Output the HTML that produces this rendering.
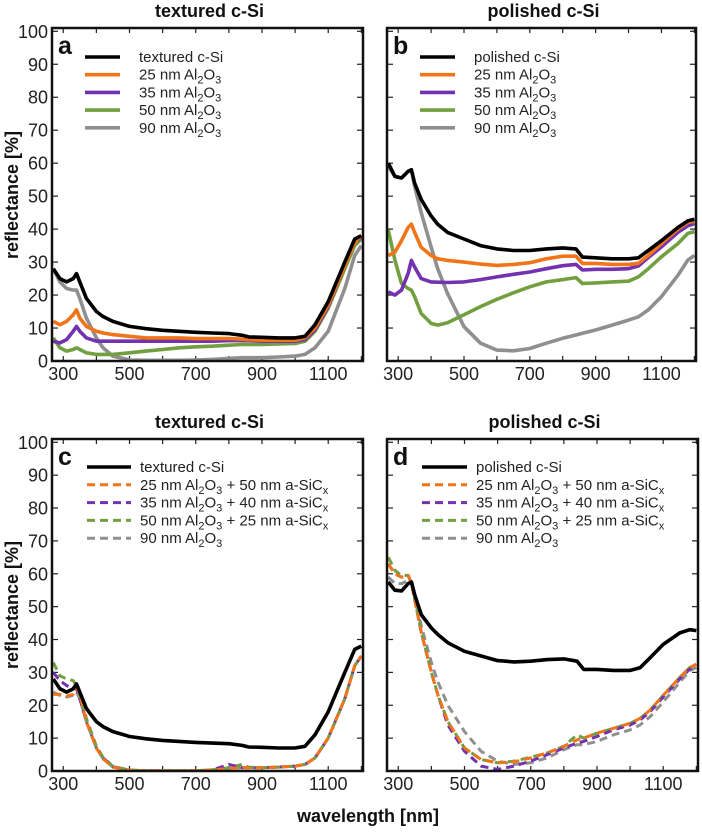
<!DOCTYPE html>
<html><head><meta charset="utf-8"><style>
html,body{margin:0;padding:0;background:#fff;}
svg{display:block;font-family:"Liberation Sans",Arial,sans-serif;}
</style></head><body>
<svg id="fig" width="702" height="832" viewBox="0 0 702 832"></svg>
<script>
const wavelengths=[270,290,310,330,340,350,370,400,420,450,500,550,600,650,700,750,800,840,860,900,950,1000,1030,1060,1100,1150,1180,1200];
const xTicks=[300,500,700,900,1100];
const yTicks=[0,10,20,30,40,50,60,70,80,90,100];
// panel a - textured
const aBare=[28,25,24,25,26.5,24,19,15,13.5,12,10.5,9.8,9.3,9,8.7,8.5,8.3,7.8,7.3,7.2,7,7,7.5,11,18,30,37,38];
const a25=[12,11,12,14,15.5,13,10.5,9,8.5,8,7.5,7,7,7,6.8,6.8,6.8,6.6,6.5,6.3,6.3,6.3,7,10,17,29,36,38];
const a35=[6,5.5,6.5,9,10.5,9,7,6,6,6,6,6,6,6,6,6,6.2,6.2,6.2,6,6,6,6.5,9.5,16.5,29,36,37.5];
const a50=[7,4,3,3.5,4,3.5,2.5,2,2,2,2.5,3,3.5,4,4.3,4.5,4.8,5,5,5,5.2,5.3,6,9,16,28,35,37];
const a90=[28,24,22,21.5,21.5,19,13,7,4,1.5,0.3,0.2,0.2,0.2,0.3,0.5,0.8,1,1,1,1.2,1.5,2,4,9,22,32,35];
// panel b - polished
const bBare=[60,56,55.5,57.5,58,54,49,44,41.5,39,37,35,34,33.5,33.5,34,34.3,34,31.5,31.3,31,31,31.3,33.5,36.5,40.5,42.5,43];
const b25=[32,33,36.5,40.5,41.5,39,34.5,32,31,30.5,30,29.4,29,29.3,29.8,31,31.8,31.8,29.6,29.6,29.3,29.3,29.6,32,35.6,40,42,42.4];
const b35=[21,20,21.5,26.5,30.5,28.5,25,24,23.9,23.8,24,24.7,25.5,26.3,27,28,28.9,29.3,27.6,27.8,27.8,28,28.8,31.4,34.6,39,41,41.7];
const b50=[39.7,30.6,23.5,22,21.5,19.5,14.4,11.4,10.9,11.6,14,16.5,18.7,20.7,22.5,24,24.7,25.3,23.5,23.7,24,24.2,25.5,28,31.6,35.6,38.7,39.2];
const b90=[59,56,55.5,57.5,58,53,45,34.6,28,20.5,10.4,5.4,3.3,3.1,3.8,5.4,6.9,7.9,8.4,9.4,10.9,12.4,13.4,15.5,19.5,26,30.6,32];
// panel c - textured stacks
const cBare=[28,25,24,25,26.5,24,19,15,13.5,12,10.5,9.8,9.3,9,8.7,8.5,8.3,7.8,7.3,7.2,7,7,7.5,11,18,30,37,38];
const c25=[23.3,23.3,22.8,23.3,25.3,23.3,15,7,3.7,1.2,0.2,0.1,0.1,0.1,0.1,0.3,0.8,1,1,1,1.2,1.5,2,4,10,22,32,35];
const c35=[30,27.5,26,25,25,22,15,7,4,1.3,0.2,0.1,0.1,0.1,0.1,0.3,2,1,1,1,1.2,1.5,2,4,10,22,32,35];
const c50=[33,29,28,27.5,26,23,16,7.5,4.2,1.4,0.3,0.1,0.1,0.1,0.1,0.4,1,2,1.2,1,1.2,1.5,2,4,10,22,32,35];
const c90=[24,23,22.5,23,24,22,15,7,3.8,1.2,0.2,0.1,0.1,0.1,0.1,0.3,0.8,1,1,1,1.2,1.5,2,4,10,22,32,35];
// panel d - polished stacks
const dBare=[57.5,55,54.8,57,57.5,53.5,47.5,43.5,41.5,39,36.4,35,33.6,33.2,33.4,33.9,34.1,33.4,30.9,30.9,30.6,30.6,31.4,34.4,38.5,42,43,42.7];
const d25=[63,60,59,59.5,57,52,42,30,23,15,7,3.5,2.5,2.8,4,5.5,7.5,9.5,10,11.5,13,14.5,16,18.5,23,28.5,31.5,32.5];
const d35=[63,60,59,59.5,57,52,42,30,23,14,6,1.5,0.5,1.5,3,5,7,8.5,9,10.5,12.5,14,15.5,18,22.5,28,31,32];
const d50=[65,61,59.5,59.5,57,52,42,30,23,15,7,3.5,2.5,3,4.2,5.5,7.5,11,10,11.5,13,14.5,16,18.5,23,28.5,31.5,32.5];
const d90=[59,57,57,58,57,53,44,33,27,20,12,6,3,2,2.5,4,6.5,8,8,9,11,12.5,14,16.5,21,27,30.5,31.5];

const NS="http://www.w3.org/2000/svg";
const svg=document.getElementById('fig');
const COL={black:"#000",orange:"#f07518",purple:"#7332b0",green:"#72a040",gray:"#8f8f8f"};
function mk(tag,attrs,parent){const e=document.createElementNS(NS,tag);for(const k in attrs)e.setAttribute(k,attrs[k]);(parent||svg).appendChild(e);return e;}

const panels=[
 {id:'a',x0:52,x1:363,y0:28,y1:361,title:'textured c-Si',
  series:[[aBare,'black',false,'textured c-Si'],[a25,'orange',false,'25 nm Al2O3'],[a35,'purple',false,'35 nm Al2O3'],[a50,'green',false,'50 nm Al2O3'],[a90,'gray',false,'90 nm Al2O3']],
  leg:{lx0:85,lx1:120,tx:139,ty:62,dy:17.7},showY:true},
 {id:'b',x0:387,x1:696,y0:28,y1:361,title:'polished c-Si',
  series:[[bBare,'black',false,'polished c-Si'],[b25,'orange',false,'25 nm Al2O3'],[b35,'purple',false,'35 nm Al2O3'],[b50,'green',false,'50 nm Al2O3'],[b90,'gray',false,'90 nm Al2O3']],
  leg:{lx0:420,lx1:455,tx:474,ty:62,dy:17.7},showY:false},
 {id:'c',x0:52,x1:363,y0:439,y1:771,title:'textured c-Si',
  series:[[cBare,'black',false,'textured c-Si'],[c25,'orange',true,'25 nm Al2O3 + 50 nm a-SiCx'],[c35,'purple',true,'35 nm Al2O3 + 40 nm a-SiCx'],[c50,'green',true,'50 nm Al2O3 + 25 nm a-SiCx'],[c90,'gray',true,'90 nm Al2O3']],
  leg:{lx0:87,lx1:131,tx:140,ty:472,dy:17.8},showY:true},
 {id:'d',x0:387,x1:698,y0:439,y1:771,title:'polished c-Si',
  series:[[dBare,'black',false,'polished c-Si'],[d25,'orange',true,'25 nm Al2O3 + 50 nm a-SiCx'],[d35,'purple',true,'35 nm Al2O3 + 40 nm a-SiCx'],[d50,'green',true,'50 nm Al2O3 + 25 nm a-SiCx'],[d90,'gray',true,'90 nm Al2O3']],
  leg:{lx0:422,lx1:467,tx:476,ty:472,dy:17.8},showY:false}
];

function labelText(t,x,y,parent){
  const el=mk('text',{x:x,y:y,'font-size':15,fill:'#222'},parent);
  const parts=t.split(/(Al2O3|SiCx)/);
  parts.forEach(p=>{
    if(p==='Al2O3'){
      const s1=mk('tspan',{},el);s1.textContent='Al';
      const s2=mk('tspan',{dy:4,'font-size':11},el);s2.textContent='2';
      const s3=mk('tspan',{dy:-4},el);s3.textContent='O';
      const s4=mk('tspan',{dy:4,'font-size':11},el);s4.textContent='3';
      const s5=mk('tspan',{dy:-4},el);s5.textContent='\u200B';
    }else if(p==='SiCx'){
      const s1=mk('tspan',{},el);s1.textContent='SiC';
      const s2=mk('tspan',{dy:4,'font-size':11},el);s2.textContent='x';
      const s3=mk('tspan',{dy:-4},el);s3.textContent='\u200B';
    }else if(p){const s=mk('tspan',{},el);s.textContent=p;}
  });
  return el;
}

panels.forEach(p=>{
  const g=mk('g',{});
  
  
  const xmin=266,xmax=1205,ymin=0,ymax=101;
  const sx=v=>p.x0+(v-xmin)/(xmax-xmin)*(p.x1-p.x0);
  const sy=v=>p.y1-(v-ymin)/(ymax-ymin)*(p.y1-p.y0);
  const t=mk('text',{x:(p.x0+p.x1)/2+2,y:p.y0-11,'font-size':18,'font-weight':'bold','text-anchor':'middle',fill:'#111'},g);
  t.textContent=p.title;
  
  
  const clipId='clip'+p.id;
  const cp=mk('clipPath',{id:clipId},g);
  mk('rect',{x:p.x0,y:p.y0,width:p.x1-p.x0,height:p.y1-p.y0},cp);
  const tg=mk('g',{stroke:'#222','stroke-width':1.2},g);
  
  
  yTicks.forEach(v=>{
    const y=sy(v);
    mk('line',{x1:p.x0,x2:p.x0+6,y1:y,y2:y},tg);
    mk('line',{x1:p.x1-6,x2:p.x1,y1:y,y2:y},tg);
    if(p.showY){
      const l=mk('text',{x:p.x0-4,y:y+6.5,'font-size':18,'text-anchor':'end',fill:'#222',stroke:'none'},g);
      l.textContent=v;
      
      
    }
  });
  for(let w=300;w<=1200;w+=100){
    const x=sx(w);
    mk('line',{x1:x,x2:x,y1:p.y1,y2:p.y1-5},tg);
    mk('line',{x1:x,x2:x,y1:p.y0,y2:p.y0+5},tg);
  }
  xTicks.forEach(w=>{
    const l=mk('text',{x:sx(w),y:p.y1+19,'font-size':18,'text-anchor':'middle',fill:'#222'},g);
    l.textContent=w;
    
    
  });
  const sg=mk('g',{'clip-path':'url(#'+clipId+')'},g);
  const order=[4,3,2,1,0];
  order.forEach(i=>{
    const s=p.series[i];
    const d=wavelengths.map((w,k)=>(k?'L':'M')+sx(w).toFixed(1)+','+sy(s[0][k]).toFixed(1)).join(' ');
    const path=mk('path',{d:d,fill:'none',stroke:COL[s[1]],'stroke-width':s[2]?3:3.6,'stroke-linejoin':'round','stroke-dasharray':s[2]?'8,5':'none'},sg);
    
    
  });
  const fr=mk('rect',{x:p.x0,y:p.y0,width:p.x1-p.x0,height:p.y1-p.y0,fill:'none',stroke:'#111','stroke-width':2.5},g);
  
  
  const pl=mk('text',{x:p.x0+6,y:p.y0+26,'font-size':25,'font-weight':'bold',fill:'#111'},g);
  pl.textContent=p.id;
  
  
  const lg=mk('g',{},g);
  
  
  p.series.forEach((s,i)=>{
    const y=p.leg.ty+i*p.leg.dy;
    const ln=mk('line',{x1:p.leg.lx0,x2:p.leg.lx1,y1:y-5,y2:y-5,stroke:COL[s[1]],'stroke-width':s[2]?3:3.6,'stroke-dasharray':s[2]?'8,5':'none'},lg);
    
    
    const tx=labelText(s[3],p.leg.tx,y,lg);
    
    
  });
});
[195,605].forEach(cy=>{
  const yl=mk('text',{x:0,y:0,'font-size':18,'font-weight':'bold','text-anchor':'middle',fill:'#111',transform:'translate(18,'+cy+') rotate(-90)'});
  yl.textContent='reflectance [%]';
  
  
});
const xl=mk('text',{x:368,y:822,'font-size':18,'font-weight':'bold','text-anchor':'middle',fill:'#111'});
xl.textContent='wavelength [nm]';


</script>
</body></html>
